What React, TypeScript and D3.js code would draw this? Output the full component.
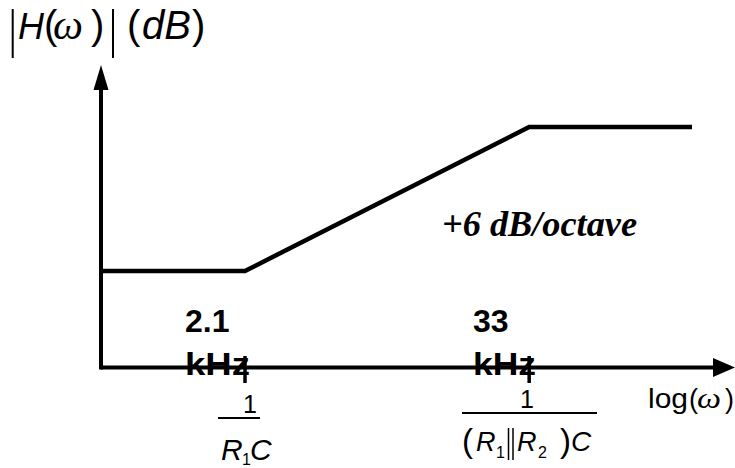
import React from "react";
import * as d3 from "d3";

// ---- data ----
const curveFreqsKHz = [0.52, 2.1, 33, 160];
const curveGainDb = [0, 0, 24, 24];
const breakFreqsKHz = [2.1, 33];
const breakValueLabels = ["2.1", "33"];
const breakUnitLabels = ["kHz", "kHz"];
const slopeLabel = "+6 dB/octave";

const W = 735;
const H = 468;

export default function App() {
  const x = d3.scaleLog().domain([0.52, 2.1]).range([101, 245]);
  const y = d3.scaleLinear().domain([0, 24]).range([271, 127]);
  const axisY = y(-16.1);
  const axisX = x(0.52);
  const xEnd = 735;
  const yTop = 65;

  const pts: [number, number][] = curveFreqsKHz.map((f, i) => [x(f), y(curveGainDb[i])]);
  const line = d3.line();

  const sans = "'Liberation Sans', Arial, sans-serif";
  const serif = "'Liberation Serif', 'Times New Roman', serif";

  const valX = [185, 473];
  const unitLen = [65, 63];

  return (
    <div style={{ position: "absolute", left: 0, top: 0 }}>
      <svg width={W} height={H} style={{ display: "block", background: "#fff" }}>
        {/* axes */}
        <line x1={axisX} y1={axisY} x2={xEnd - 20} y2={axisY} stroke="#000" strokeWidth={4} />
        <polygon points={`${xEnd},${axisY} ${xEnd - 22},${axisY - 9.5} ${xEnd - 22},${axisY + 9.5}`} fill="#000" />
        <line x1={axisX} y1={axisY + 2} x2={axisX} y2={yTop + 20} stroke="#000" strokeWidth={4} />
        <polygon points={`${axisX},${yTop} ${axisX - 7.5},${yTop + 25} ${axisX + 7.5},${yTop + 25}`} fill="#000" />

        {/* curve */}
        <path d={line(pts) || ""} fill="none" stroke="#000" strokeWidth={4.5} strokeLinejoin="miter" />

        {/* break ticks + labels */}
        {breakFreqsKHz.map((f, i) => (
          <g key={i}>
            <text x={valX[i]} y={332} fontFamily={sans} fontWeight="bold" fontSize={32}>{breakValueLabels[i]}</text>
            <text x={valX[i]} y={375} fontFamily={sans} fontWeight="bold" fontSize={32}
              textLength={unitLen[i]} lengthAdjust="spacingAndGlyphs">{breakUnitLabels[i]}</text>
            <line x1={x(f)} y1={356} x2={x(f)} y2={383} stroke="#000" strokeWidth={3.5} />
          </g>
        ))}

        {/* slope label */}
        <text x={442} y={236} fontFamily={serif} fontWeight="bold" fontStyle="italic" fontSize={35}
          textLength={195} lengthAdjust="spacingAndGlyphs">{slopeLabel}</text>

        {/* title */}
        <line x1={12.7} y1={9} x2={12.7} y2={58} stroke="#000" strokeWidth={2} />
        <text x={18} y={39} fontFamily={sans} fontSize={36} fontStyle="italic">H</text>
        <text x={44} y={39} fontFamily={sans} fontSize={40}>(</text>
        <text x={53} y={39} fontFamily={serif} fontSize={42} fontStyle="italic"
          textLength={30} lengthAdjust="spacingAndGlyphs">ω</text>
        <text x={91} y={39} fontFamily={sans} fontSize={40}>)</text>
        <line x1={113} y1={9} x2={113} y2={58} stroke="#000" strokeWidth={2} />
        <text x={127} y={39} fontFamily={sans} fontSize={40}>(</text>
        <text x={142} y={39} fontFamily={sans} fontSize={40} fontStyle="italic">dB</text>
        <text x={192} y={39} fontFamily={sans} fontSize={40}>)</text>

        {/* fraction 1 */}
        <text x={243} y={413} fontFamily={sans} fontSize={25}>1</text>
        <line x1={218} y1={418} x2={260} y2={418} stroke="#000" strokeWidth={2} />
        <text x={221} y={460} fontFamily={sans} fontSize={30} fontStyle="italic">R</text>
        <text x={242} y={465} fontFamily={sans} fontSize={16}>1</text>
        <text x={250} y={460} fontFamily={sans} fontSize={30} fontStyle="italic">C</text>

        {/* fraction 2 */}
        <text x={520} y={408} fontFamily={sans} fontSize={25}>1</text>
        <line x1={462} y1={413} x2={597} y2={413} stroke="#000" strokeWidth={2} />
        <text x={462} y={452} fontFamily={sans} fontSize={33}>(</text>
        <text x={476} y={451} fontFamily={sans} fontSize={27} fontStyle="italic">R</text>
        <text x={496} y={458} fontFamily={sans} fontSize={16}>1</text>
        <line x1={508.5} y1={428} x2={508.5} y2={460} stroke="#000" strokeWidth={1.5} />
        <line x1={513} y1={428} x2={513} y2={460} stroke="#000" strokeWidth={1.5} />
        <text x={517} y={451} fontFamily={sans} fontSize={27} fontStyle="italic">R</text>
        <text x={538} y={458} fontFamily={sans} fontSize={16}>2</text>
        <text x={560} y={452} fontFamily={sans} fontSize={33}>)</text>
        <text x={571} y={451} fontFamily={sans} fontSize={28} fontStyle="italic">C</text>

        {/* x axis label */}
        <text x={648} y={408} fontFamily={sans} fontSize={27} textLength={40} lengthAdjust="spacingAndGlyphs">log</text>
        <text x={689} y={408} fontFamily={sans} fontSize={27}>(</text>
        <text x={697} y={408} fontFamily={serif} fontSize={30} fontStyle="italic"
          textLength={24} lengthAdjust="spacingAndGlyphs">ω</text>
        <text x={725} y={408} fontFamily={sans} fontSize={27}>)</text>
      </svg>
    </div>
  );
}
